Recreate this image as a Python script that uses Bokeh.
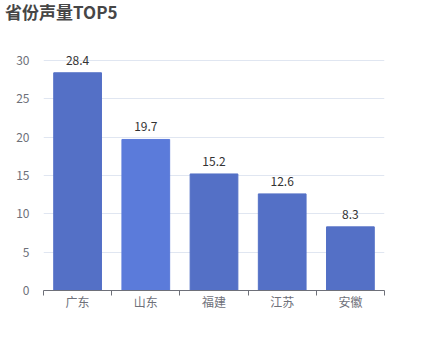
from bokeh.plotting import figure
from bokeh.models import ColumnDataSource, FixedTicker, LinearAxis, Range1d, LabelSet, Div
from bokeh.layouts import column
from bokeh.core.properties import value
from bokeh.embed import file_html
from bokeh.resources import INLINE

title_text = "省份声量TOP5"
provinces = ["广东", "山东", "福建", "江苏", "安徽"]
volumes = [28.4, 19.7, 15.2, 12.6, 8.3]
bar_colors = ["#5470c6", "#5b7bda", "#5470c6", "#5470c6", "#5470c6"]
y_ticks = [0, 5, 10, 15, 20, 25, 30]

xs = [i + 0.5 for i in range(len(provinces))]
src = ColumnDataSource(dict(x=xs, y=volumes, c=bar_colors,
                            lab=[f"{v:.1f}" for v in volumes]))

FONT = "Noto Sans CJK SC"

title = Div(text=title_text, width=300, height=28, margin=(2, 0, 0, 5),
            styles={"font-size": "17px", "font-weight": "bold", "color": "#464646",
                    "font-family": FONT, "line-height": "20px"})

p = figure(width=420, height=320, output_backend="svg", toolbar_location=None,
           x_range=Range1d(0, len(provinces)), y_range=Range1d(0, 33),
           x_axis_location=None, y_axis_location=None, title=None,
           min_border_left=43, min_border_right=36, min_border_top=7, min_border_bottom=60)
p.outline_line_color = None
p.background_fill_color = "white"
p.border_fill_color = "white"

p.vbar(x="x", top="y", width=0.7, bottom=0, source=src, fill_color="c", line_color="c")

labels = LabelSet(x="x", y="y", text="lab", source=src, text_align="center",
                  text_baseline="bottom", y_offset=8, text_font_size=value("12px"),
                  text_color=value("#333333"), text_font=value(FONT))
p.add_layout(labels)

yax = LinearAxis(ticker=FixedTicker(ticks=y_ticks))
yax.axis_line_color = None
yax.major_tick_line_color = None
yax.minor_tick_line_color = None
yax.major_label_text_color = "#6e7079"
yax.major_label_text_font_size = "12px"
yax.major_label_text_font = FONT
yax.major_label_standoff = 8
p.add_layout(yax, "left")

xax = LinearAxis(ticker=FixedTicker(ticks=xs, minor_ticks=list(range(len(provinces) + 1))))
xax.major_label_overrides = {x: n for x, n in zip(xs, provinces)}
xax.axis_line_color = "#6e7079"
xax.major_tick_line_color = None
xax.minor_tick_line_color = "#6e7079"
xax.minor_tick_out = 5
xax.minor_tick_in = 0
xax.major_label_text_color = "#6e7079"
xax.major_label_text_font_size = "12px"
xax.major_label_text_font = FONT
xax.major_label_standoff = -4
p.add_layout(xax, "below")

p.xgrid.visible = False
p.ygrid.ticker = FixedTicker(ticks=y_ticks)
p.ygrid.grid_line_color = "#e0e6f1"

layout = column(title, p, spacing=0)
open("out.html", "w").write(file_html(layout, INLINE))
